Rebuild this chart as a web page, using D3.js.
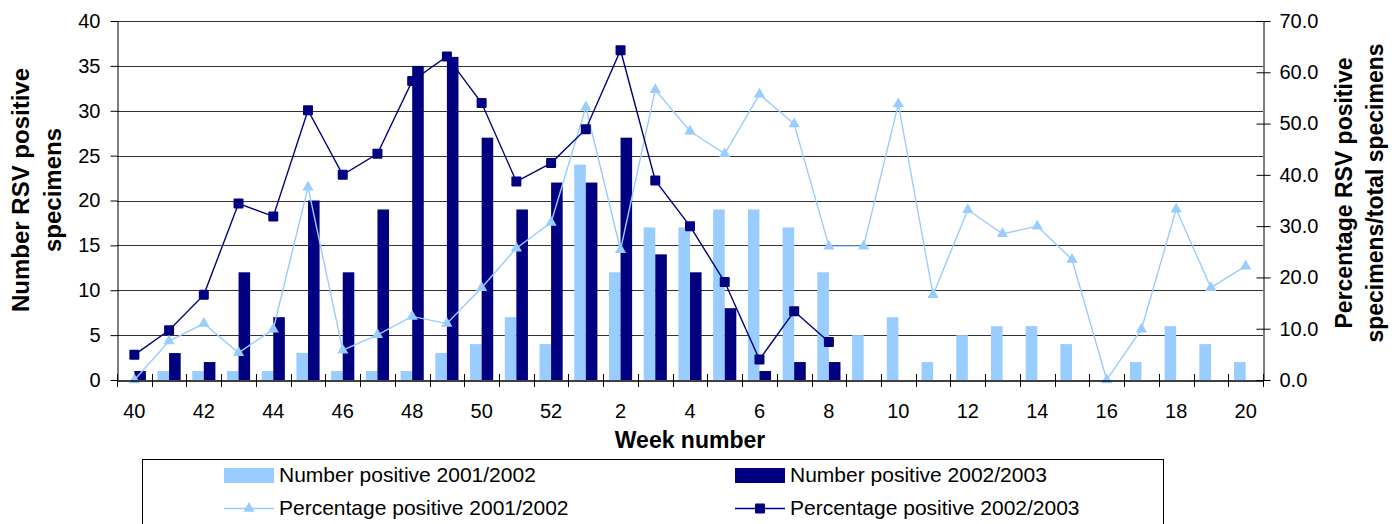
<!DOCTYPE html>
<html>
<head>
<meta charset="utf-8">
<script src="https://cdn.jsdelivr.net/npm/d3@7"></script>
<style>
  body { margin: 0; background: #fff; }
  text { font-family: "Liberation Sans", Arial, sans-serif; fill: #000; }
</style>
</head>
<body>
<script>
// Constants for the chart
const WIDTH = 1400;
const HEIGHT = 524;
const MARGIN = {
  top: 21,
  bottom: 144,
  left: 117,
  right: 137,
};

const LIGHT = "#99ccff";
const DARK = "#000080";

// Data
const WEEKS = [40, 41, 42, 43, 44, 45, 46, 47, 48, 49, 50, 51, 52,
  1, 2, 3, 4, 5, 6, 7, 8, 9, 10, 11, 12, 13, 14, 15, 16, 17, 18, 19, 20];

const NUM_2001 = [0, 1, 1, 1, 1, 3, 1, 1, 1, 3, 4, 7, 4,
  24, 12, 17, 17, 19, 19, 17, 12, 5, 7, 2, 5, 6, 6, 4, 0, 2, 6, 4, 2];

const NUM_2002 = [1, 3, 2, 12, 7, 20, 12, 19, 35, 36, 27, 19, 22,
  22, 27, 14, 12, 8, 1, 2, 2, null, null, null, null, null, null, null, null, null, null, null, null];

const PCT_2001 = [0, 7.6, 11.0, 5.3, 9.9, 37.6, 5.8, 8.8, 12.4, 11.0, 18.0, 25.7, 30.7,
  53.2, 25.4, 56.6, 48.5, 44.1, 55.7, 49.9, 26.1, 26.1, 53.8, 16.6, 33.2, 28.5, 30.0, 23.5, 0, 9.9, 33.3, 18.0, 22.2];

const PCT_2002 = [4.9, 9.7, 16.6, 34.4, 31.9, 52.6, 40.0, 44.1, 58.3, 63.1, 54.0, 38.7, 42.3,
  48.9, 64.3, 38.9, 30.0, 19.1, 4.0, 13.4, 7.4, null, null, null, null, null, null, null, null, null, null, null, null];

const LEFT_TICKS = [0, 5, 10, 15, 20, 25, 30, 35, 40];
const RIGHT_TICKS = [0, 10, 20, 30, 40, 50, 60, 70];
const X_LABELS = WEEKS.filter((d, i) => i % 2 === 0);

const LEGEND = [
  { label: "Number positive 2001/2002", kind: "bar", color: LIGHT },
  { label: "Number positive 2002/2003", kind: "bar", color: DARK },
  { label: "Percentage positive 2001/2002", kind: "tri", color: LIGHT },
  { label: "Percentage positive 2002/2003", kind: "sq", color: DARK },
];

const X0 = MARGIN.left;
const X1 = WIDTH - MARGIN.right;
const Y0 = HEIGHT - MARGIN.bottom;
const Y1 = MARGIN.top;

const svg = d3.select("body")
  .append("svg")
  .attr("width", WIDTH)
  .attr("height", HEIGHT);

const escalaX = d3.scaleBand().domain(WEEKS).range([X0, X1]).padding(0);
const bw = escalaX.bandwidth();
const centro = (w) => escalaX(w) + bw / 2;

const escalaY = d3.scaleLinear().domain([0, 40]).range([Y0, Y1]);
const escalaY2 = d3.scaleLinear().domain([0, 70]).range([Y0, Y1]);

// gridlines
svg.append("g")
  .selectAll("line")
  .data(LEFT_TICKS.filter(d => d > 0))
  .join("line")
  .attr("x1", X0).attr("x2", X1)
  .attr("y1", d => Math.round(escalaY(d)) + 0.5)
  .attr("y2", d => Math.round(escalaY(d)) + 0.5)
  .attr("stroke", "#333")
  .attr("stroke-width", 1);

// bars
const barras = svg.append("g");
barras.selectAll("rect.light")
  .data(WEEKS.map((w, i) => ({ w, v: NUM_2001[i] })).filter(d => d.v))
  .join("rect")
  .attr("class", "light")
  .attr("x", d => centro(d.w) - bw / 3)
  .attr("width", bw / 3)
  .attr("y", d => escalaY(d.v))
  .attr("height", d => Y0 - escalaY(d.v))
  .attr("fill", LIGHT);

barras.selectAll("rect.dark")
  .data(WEEKS.map((w, i) => ({ w, v: NUM_2002[i] })).filter(d => d.v))
  .join("rect")
  .attr("class", "dark")
  .attr("x", d => centro(d.w))
  .attr("width", bw / 3)
  .attr("y", d => escalaY(d.v))
  .attr("height", d => Y0 - escalaY(d.v))
  .attr("fill", DARK);

// percentage lines
const linea = d3.line()
  .defined(d => d.v != null)
  .x(d => centro(d.w))
  .y(d => escalaY2(d.v));

const datos2001 = WEEKS.map((w, i) => ({ w, v: PCT_2001[i] }));
const datos2002 = WEEKS.map((w, i) => ({ w, v: PCT_2002[i] })).filter(d => d.v != null);

svg.append("path")
  .datum(datos2001)
  .attr("d", linea)
  .attr("fill", "none")
  .attr("stroke", LIGHT)
  .attr("stroke-width", 1.4);

svg.append("path")
  .datum(datos2002)
  .attr("d", linea)
  .attr("fill", "none")
  .attr("stroke", DARK)
  .attr("stroke-width", 1.4);

const triangulo = d3.symbol(d3.symbolTriangle).size(55);

svg.append("g")
  .selectAll("path")
  .data(datos2001)
  .join("path")
  .attr("d", triangulo)
  .attr("transform", d => `translate(${centro(d.w)},${escalaY2(d.v)})`)
  .attr("fill", LIGHT);

svg.append("g")
  .selectAll("rect")
  .data(datos2002)
  .join("rect")
  .attr("x", d => centro(d.w) - 5)
  .attr("y", d => escalaY2(d.v) - 5)
  .attr("width", 10)
  .attr("height", 10)
  .attr("rx", 1)
  .attr("fill", DARK);

// axes
const ejeY = svg.append("g")
  .attr("transform", `translate(${X0 + 0.5}, 0)`)
  .call(d3.axisLeft(escalaY).tickValues(LEFT_TICKS).tickSize(7).tickPadding(10).tickSizeOuter(0));
ejeY.selectAll("text").attr("font-size", 20);

const ejeY2 = svg.append("g")
  .attr("transform", `translate(${X1 + 0.5}, 0)`)
  .call(d3.axisRight(escalaY2).tickValues(RIGHT_TICKS).tickFormat(d3.format(".1f")).tickSize(7).tickPadding(9).tickSizeOuter(0));
ejeY2.selectAll("text").attr("font-size", 20);
ejeY2.selectAll(".tick line").attr("x1", -7);

const ejeX = svg.append("g")
  .attr("transform", `translate(0, ${Y0 + 0.5})`)
  .call(d3.axisBottom(escalaX).tickValues(X_LABELS).tickSize(0).tickSizeOuter(0));
ejeX.selectAll("text").attr("font-size", 20).attr("y", 37).attr("dy", 0);
ejeX.select(".domain").attr("stroke-width", 1.5);

// week ticks at band edges
svg.append("g")
  .selectAll("line")
  .data(WEEKS.concat(["end"]))
  .join("line")
  .attr("x1", d => d === "end" ? X1 + 0.5 : Math.round(escalaX(d)) + 0.5)
  .attr("x2", d => d === "end" ? X1 + 0.5 : Math.round(escalaX(d)) + 0.5)
  .attr("y1", Y0 - 6)
  .attr("y2", Y0 + 7)
  .attr("stroke", "#000");

// axis titles
svg.append("text")
  .attr("x", (X0 + X1) / 2)
  .attr("y", 448)
  .attr("text-anchor", "middle")
  .attr("font-size", 23)
  .attr("font-weight", "bold")
  .text("Week number");

const tituloIzq = ["Number RSV positive", "specimens"];
svg.append("g")
  .selectAll("text")
  .data(tituloIzq)
  .join("text")
  .attr("transform", (d, i) => `translate(${i === 0 ? 29 : 61}, 190) rotate(-90)`)
  .attr("text-anchor", "middle")
  .attr("font-size", 24)
  .attr("font-weight", "bold")
  .text(d => d);

const tituloDer = ["Percentage RSV positive", "specimens/total specimens"];
svg.append("g")
  .selectAll("text")
  .data(tituloDer)
  .join("text")
  .attr("transform", (d, i) => `translate(${i === 0 ? 1352 : 1383}, 193) rotate(-90)`)
  .attr("text-anchor", "middle")
  .attr("font-size", 23)
  .attr("font-weight", "bold")
  .text(d => d);

// legend
svg.append("rect")
  .attr("x", 142.5)
  .attr("y", 459.5)
  .attr("width", 1021)
  .attr("height", 90)
  .attr("fill", "none")
  .attr("stroke", "#000");

const leyenda = svg.append("g")
  .selectAll("g")
  .data(LEGEND)
  .join("g")
  .attr("transform", (d, i) => `translate(${i % 2 === 0 ? 224 : 735}, ${i < 2 ? 468 : 501})`);

leyenda.filter(d => d.kind === "bar")
  .append("rect")
  .attr("width", 50)
  .attr("height", 15)
  .attr("fill", d => d.color);

leyenda.filter(d => d.kind !== "bar")
  .append("line")
  .attr("x1", 0).attr("x2", 50)
  .attr("y1", 7.5).attr("y2", 7.5)
  .attr("stroke", d => d.color)
  .attr("stroke-width", 1.4);

leyenda.filter(d => d.kind === "tri")
  .append("path")
  .attr("d", triangulo)
  .attr("transform", "translate(25, 7.5)")
  .attr("fill", d => d.color);

leyenda.filter(d => d.kind === "sq")
  .append("rect")
  .attr("x", 20).attr("y", 2.5)
  .attr("width", 10).attr("height", 10)
  .attr("rx", 1)
  .attr("fill", d => d.color);

leyenda.append("text")
  .attr("x", 55)
  .attr("y", 14)
  .attr("font-size", 21)
  .text(d => d.label);
</script>
</body>
</html>
